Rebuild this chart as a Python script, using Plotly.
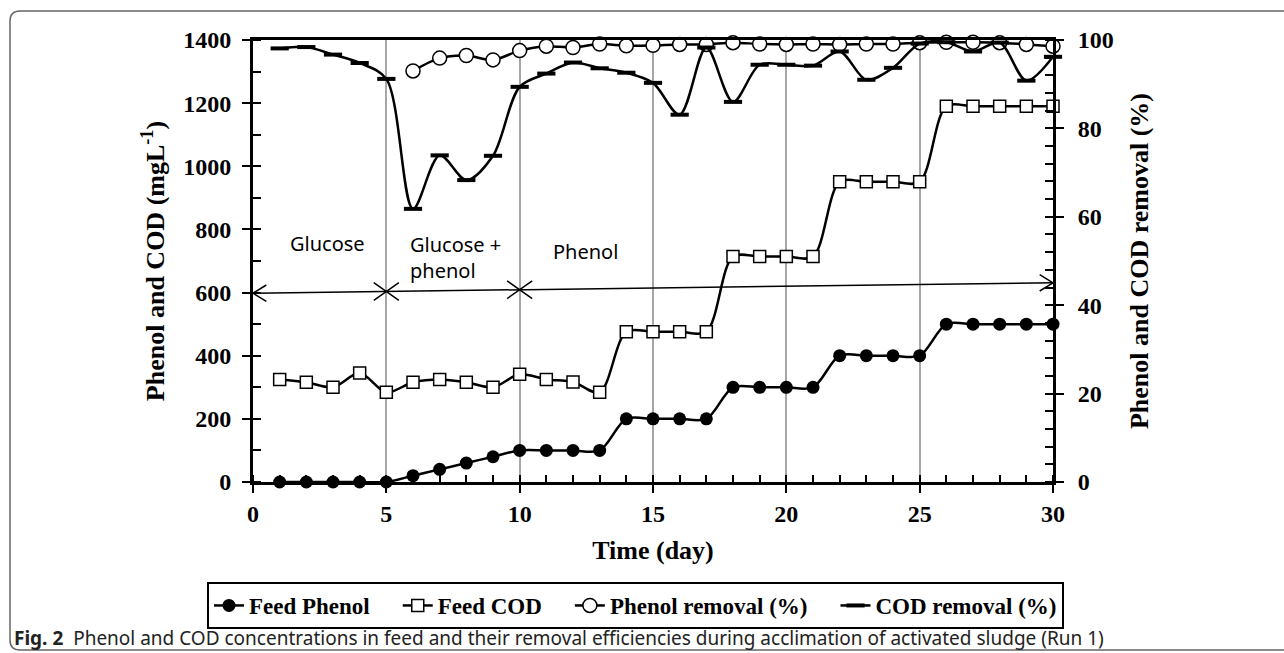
import plotly.graph_objects as go

# ---------------- data ----------------
days = list(range(1, 31))
feed_phenol = [0, 0, 0, 0, 0, 20, 40, 60, 80, 100, 100, 100, 100, 200, 200,
               200, 200, 300, 300, 300, 300, 400, 400, 400, 400, 500, 500, 500, 500, 500]
feed_cod = [325, 316, 300, 345, 284, 316, 325, 316, 300, 341, 325, 317, 284, 476, 476,
            476, 476, 714, 714, 714, 714, 951, 951, 951, 951, 1190, 1190, 1190, 1190, 1190]
phenol_days = list(range(6, 31))
phenol_removal = [93.0, 95.9, 96.5, 95.5, 97.6, 98.6, 98.3, 99.1, 98.7, 98.8, 99.0, 99.0, 99.4,
                  99.1, 99.0, 99.1, 99.0, 99.1, 99.1, 99.4, 99.5, 99.5, 99.4, 99.0, 98.6]
cod_removal = [98.1, 98.4, 96.7, 94.8, 91.2, 61.8, 73.9, 68.3, 73.8, 89.4, 92.4, 94.9, 93.6, 92.6, 90.3,
               83.1, 98.3, 86.0, 94.4, 94.4, 94.2, 97.4, 91.0, 93.7, 99.2, 99.5, 97.4, 99.4, 90.8, 96.2]

series_names = ["Feed Phenol", "Feed COD", "Phenol removal (%)", "COD removal (%)"]

x_ticks = [0, 5, 10, 15, 20, 25, 30]
left_ticks = [0, 200, 400, 600, 800, 1000, 1200, 1400]
right_ticks = [0, 20, 40, 60, 80, 100]

# phase annotation (left-axis units)
phase_start, phase_end = 0, 30
phase_marks = [5, 10]
arrow_y_start, arrow_y_end = 598, 631
phase_labels = [("Glucose", 2.78, 757, "center"),
                ("Glucose +<br>phenol", 5.8, 712, "left"),
                ("Phenol", 12.46, 729, "center")]

caption = ("<b>Fig. 2</b>  Phenol and COD concentrations in feed and their removal "
           "efficiencies during acclimation of activated sludge (Run 1)")

# ---------------- figure ----------------
W, H = 1284, 653
L, R, T, B = 253, 231, 40, 171
pw, ph = W - L - R, H - T - B

SERIF = "Liberation Serif, Times New Roman, serif"
SANS = "Noto Sans, Open Sans, sans-serif"

pad = "\u00a0" * 4
legend_names = [n + pad for n in series_names[:-1]] + [series_names[-1]]

fig = go.Figure()
line_kw = dict(color="black", width=2.5, shape="spline", smoothing=0.9)

fig.add_trace(go.Scatter(x=days, y=feed_phenol, name=legend_names[0], mode="lines+markers",
                         line=line_kw, cliponaxis=False,
                         marker=dict(symbol="circle", size=13, color="black")))
fig.add_trace(go.Scatter(x=days, y=feed_cod, name=legend_names[1], mode="lines+markers",
                         line=line_kw, cliponaxis=False,
                         marker=dict(symbol="square", size=12, color="white",
                                     line=dict(color="black", width=1.5))))
fig.add_trace(go.Scatter(x=phenol_days, y=phenol_removal, name=legend_names[2],
                         mode="lines+markers", line=line_kw, yaxis="y2", cliponaxis=False,
                         marker=dict(symbol="circle", size=14, color="white",
                                     line=dict(color="black", width=1.5))))
fig.add_trace(go.Scatter(x=days, y=cod_removal, name=legend_names[3], mode="lines+markers",
                         line=line_kw, yaxis="y2", cliponaxis=False,
                         marker=dict(symbol="line-ew", size=13, color="black",
                                     line=dict(color="black", width=4))))

# ---- phase arrow line with open arrowheads and X marks ----
def y_at(d):
    return arrow_y_start + (arrow_y_end - arrow_y_start) * (d - phase_start) / (phase_end - phase_start)

shapes = []
blk = dict(color="black", width=1.5)
shapes.append(dict(type="line", xref="x", yref="y", x0=phase_start, y0=y_at(phase_start),
                   x1=phase_end, y1=y_at(phase_end), line=blk))
ax_d, ax_v = 0.5, 26
for sgn in (1, -1):
    shapes.append(dict(type="line", xref="x", yref="y", x0=phase_start, y0=y_at(phase_start),
                       x1=phase_start + ax_d, y1=y_at(phase_start) + sgn * ax_v, line=blk))
    shapes.append(dict(type="line", xref="x", yref="y", x0=phase_end, y0=y_at(phase_end),
                       x1=phase_end - ax_d, y1=y_at(phase_end) + sgn * ax_v, line=blk))
xd, xv = 0.47, 28
for d in phase_marks:
    yc = y_at(d)
    shapes.append(dict(type="line", xref="x", yref="y", x0=d - xd, y0=yc + xv,
                       x1=d + xd, y1=yc - xv, line=blk))
    shapes.append(dict(type="line", xref="x", yref="y", x0=d - xd, y0=yc - xv,
                       x1=d + xd, y1=yc + xv, line=blk))

# ---- outer rounded frame (paper coords) ----
def px(xp):
    return (xp - L) / pw

def py(yp):
    return (H - B - yp) / ph

fx0, fx1, fy0, fy1, r = 10, 1300, 11, 650, 10
path = (f"M {px(fx0)},{py(fy0 + r)} Q {px(fx0)},{py(fy0)} {px(fx0 + r)},{py(fy0)} "
        f"L {px(fx1)},{py(fy0)} L {px(fx1)},{py(fy1)} L {px(fx0 + r)},{py(fy1)} "
        f"Q {px(fx0)},{py(fy1)} {px(fx0)},{py(fy1 - r)} Z")
shapes.append(dict(type="path", xref="paper", yref="paper", path=path,
                   line=dict(color="#666666", width=1.5), layer="below"))

annotations = []
for txt, xd_, yv, al in phase_labels:
    annotations.append(dict(x=xd_, y=yv, xref="x", yref="y", text=txt, showarrow=False,
                            xanchor=al, align="left", font=dict(family=SANS, size=20, color="black")))
annotations.append(dict(x=px(12), y=py(638), xref="paper", yref="paper", text=caption,
                        showarrow=False, xanchor="left", yanchor="middle",
                        font=dict(family=SANS, size=19, color="#222222")))

tickfont = dict(family=SERIF, size=24, color="black", weight="bold")
titlefont = dict(family=SERIF, size=26, color="black", weight="bold")

fig.update_layout(
    width=W, height=H, autosize=False,
    margin=dict(l=L, r=R, t=T, b=B),
    paper_bgcolor="white", plot_bgcolor="white",
    shapes=shapes, annotations=annotations,
    showlegend=True,
    legend=dict(orientation="h", x=px(207), xanchor="left", y=py(582), yanchor="top",
                bordercolor="black", borderwidth=2, bgcolor="white",
                font=dict(family=SERIF, size=23, color="black", weight="bold"),
                itemwidth=30, tracegroupgap=0),
    xaxis=dict(range=[0, 30], tickvals=x_ticks, ticks="outside", ticklen=8, tickwidth=2,
               tickcolor="black", showline=True, linecolor="black", linewidth=3, mirror=True,
               showgrid=True, gridcolor="#a6a6a6", gridwidth=1.5, zeroline=False,
               minor=dict(dtick=1, ticks="inside", ticklen=7, tickwidth=1.5, tickcolor="black",
                          showgrid=False),
               tickfont=tickfont, ticklabelstandoff=0,
               title=dict(text="Time (day)", font=titlefont, standoff=16)),
    yaxis=dict(range=[0, 1400], tickvals=left_ticks, ticks="outside", ticklen=8, tickwidth=2,
               tickcolor="black", showline=True, linecolor="black", linewidth=3,
               showgrid=False, zeroline=False,
               minor=dict(dtick=100, ticks="inside", ticklen=8, tickwidth=1.5, tickcolor="black"),
               tickfont=tickfont, ticklabelstandoff=6,
               title=dict(text="Phenol and COD (mgL<sup>-1</sup>)", font=titlefont, standoff=12)),
    yaxis2=dict(range=[0, 100], tickvals=right_ticks, overlaying="y", side="right",
                ticks="outside", ticklen=8, tickwidth=2, tickcolor="black",
                showline=True, linecolor="black", linewidth=3, showgrid=False, zeroline=False,
                minor=dict(dtick=4, ticks="inside", ticklen=8, tickwidth=1.5, tickcolor="black"),
                tickfont=tickfont, ticklabelstandoff=9,
                title=dict(text="Phenol and COD removal (%)", font=titlefont, standoff=18)),
)

fig.write_html("out.html", config={"displayModeBar": False},
               post_script="document.body.style.margin='0';document.body.style.overflow='hidden';")
